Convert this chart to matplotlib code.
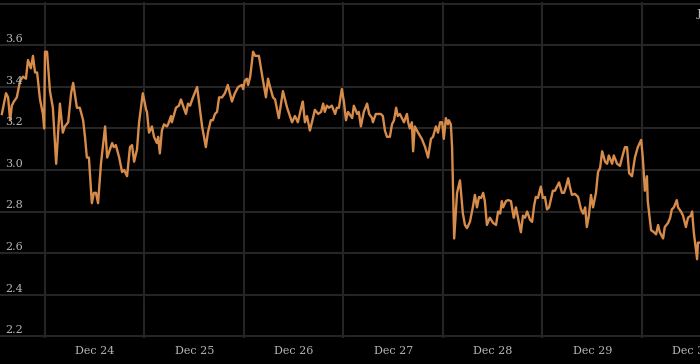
import matplotlib
matplotlib.use("Agg")
import matplotlib.pyplot as plt
import matplotlib.transforms as mtransforms

# hours relative to Dec 24 00:00
hours = [-10.4, -9.4, -8.9, -8.4, -8.0, -7.5, -6.8, -6.0, -5.3, -4.6, -4.1, -3.4, -2.9, -2.4, -1.9,
         -1.2, -0.5, -0.2, 0.0, 0.5, 1.2, 1.9, 2.7, 3.6, 4.3, 4.8, 5.6, 6.3, 6.8, 7.7, 8.4, 9.2,
         9.7, 10.1, 10.6, 11.3, 11.8, 12.3, 12.8, 13.5, 14.5, 15.0, 16.2, 16.6, 17.1, 17.9, 18.6,
         19.1, 19.8, 20.5, 21.0, 21.5, 22.2, 22.7, 23.6, 24.4, 24.6, 25.1, 25.8, 26.3, 27.0, 27.3,
         27.7, 28.2, 28.7, 29.4, 29.7, 30.4, 30.6, 31.6, 32.3, 32.8, 33.3, 34.0, 34.5, 35.0, 35.7,
         36.7, 37.4, 37.9, 38.8, 39.3, 40.0, 40.5, 41.0, 41.5, 42.0, 42.7, 43.4, 44.1, 44.6, 45.1,
         45.8, 46.6, 47.5, 47.8, 48.2, 48.7, 49.0, 49.5, 50.2, 50.7, 51.6, 52.6, 53.3, 53.8, 54.3,
         55.0, 55.5, 56.4, 57.4, 58.4, 59.6, 60.3, 61.0, 61.8, 62.2, 62.7, 63.2, 63.9, 64.4, 65.1,
         65.9, 66.6, 67.1, 67.5, 68.0, 68.5, 69.2, 70.0, 70.4, 70.9, 71.6, 72.1, 72.6, 73.1, 74.1,
         74.5, 75.3, 75.7, 76.2, 76.9, 77.7, 78.2, 78.9, 79.1, 79.8, 80.3, 81.0, 81.5, 82.0, 82.5,
         83.2, 83.7, 84.2, 84.7, 85.1, 85.6, 86.1, 86.6, 87.3, 87.6, 88.0, 88.5, 88.8, 89.2, 90.0,
         90.9, 91.7, 92.4, 93.1, 93.6, 94.3, 94.8, 95.3, 95.8, 96.2, 96.7, 97.2, 97.4, 97.9, 98.2,
         98.7, 99.4, 100.1, 100.8, 101.3, 101.8, 102.5, 103.2, 103.7, 104.2, 104.7, 105.2, 105.7,
         106.1, 106.6, 107.3, 108.1, 108.8, 109.3, 109.8, 110.2, 110.5, 111.2, 111.7, 112.4, 112.9,
         113.1, 113.6, 114.1, 114.8, 115.3, 115.8, 116.3, 117.0, 117.5, 118.0, 118.4, 118.9, 119.6,
         120.1, 120.6, 121.1, 121.6, 122.5, 123.0, 123.5, 124.0, 124.7, 125.2, 125.7, 126.2, 126.6,
         127.1, 127.8, 128.6, 129.3, 129.8, 130.3, 130.7, 131.2, 131.7, 132.2, 132.9, 133.4, 133.9,
         134.4, 135.1, 135.6, 136.0, 136.8, 137.2, 138.0, 138.7, 139.2, 139.9, 140.4, 140.9, 141.6,
         142.3, 143.0, 143.8, 144.2, 144.7, 145.2, 145.4, 146.2, 146.9, 147.4, 147.9, 148.3, 149.1,
         149.5, 150.3, 150.8, 151.2, 151.7, 152.4, 152.7, 153.4, 153.9, 154.6, 155.1, 155.8, 156.1,
         156.5, 157.3, 157.5, 158.0]

values = [3.27, 3.37, 3.35, 3.24, 3.31, 3.33, 3.35, 3.43, 3.45, 3.44, 3.53, 3.49, 3.55, 3.47, 3.47,
          3.34, 3.27, 3.20, 3.57, 3.57, 3.38, 3.30, 3.03, 3.32, 3.18, 3.21, 3.23, 3.37, 3.42, 3.30,
          3.30, 3.24, 3.15, 3.06, 3.06, 2.84, 2.89, 2.89, 2.84, 3.03, 3.21, 3.06, 3.13, 3.11, 3.12,
          3.06, 2.99, 3.00, 2.97, 3.11, 3.12, 3.04, 3.10, 3.23, 3.37, 3.29, 3.28, 3.18, 3.21, 3.16,
          3.13, 3.16, 3.08, 3.19, 3.22, 3.21, 3.22, 3.26, 3.23, 3.30, 3.31, 3.34, 3.31, 3.27, 3.32,
          3.31, 3.35, 3.40, 3.29, 3.21, 3.11, 3.18, 3.24, 3.24, 3.27, 3.28, 3.35, 3.35, 3.37, 3.41,
          3.37, 3.33, 3.37, 3.40, 3.41, 3.39, 3.43, 3.44, 3.41, 3.45, 3.57, 3.55, 3.55, 3.43, 3.35,
          3.44, 3.40, 3.35, 3.34, 3.25, 3.38, 3.30, 3.23, 3.26, 3.23, 3.30, 3.33, 3.23, 3.26, 3.19,
          3.23, 3.29, 3.27, 3.28, 3.32, 3.28, 3.31, 3.30, 3.31, 3.27, 3.30, 3.30, 3.39, 3.33, 3.24,
          3.28, 3.25, 3.31, 3.27, 3.28, 3.21, 3.28, 3.32, 3.27, 3.25, 3.23, 3.27, 3.27, 3.27, 3.26,
          3.19, 3.16, 3.16, 3.22, 3.24, 3.30, 3.26, 3.27, 3.25, 3.23, 3.27, 3.23, 3.20, 3.23, 3.09,
          3.21, 3.18, 3.15, 3.11, 3.06, 3.15, 3.16, 3.21, 3.18, 3.23, 3.23, 3.15, 3.25, 3.22, 3.24,
          3.22, 3.11, 2.67, 2.89, 2.95, 2.79, 2.735, 2.72, 2.75, 2.82, 2.88, 2.82, 2.87, 2.865, 2.89,
          2.85, 2.735, 2.77, 2.745, 2.735, 2.80, 2.79, 2.85, 2.82, 2.85, 2.855, 2.85, 2.79, 2.77,
          2.82, 2.77, 2.70, 2.78, 2.77, 2.80, 2.76, 2.75, 2.83, 2.87, 2.865, 2.92, 2.865, 2.87, 2.81,
          2.82, 2.90, 2.90, 2.92, 2.94, 2.89, 2.89, 2.92, 2.96, 2.92, 2.88, 2.885, 2.87, 2.81, 2.79,
          2.82, 2.725, 2.78, 2.88, 2.82, 2.89, 2.99, 3.01, 3.09, 3.04, 3.03, 3.07, 3.03, 3.07, 3.03,
          3.02, 3.06, 3.11, 3.11, 2.985, 2.97, 3.06, 3.11, 3.145, 3.06, 2.90, 2.97, 2.85, 2.71, 2.70,
          2.69, 2.735, 2.70, 2.67, 2.725, 2.745, 2.77, 2.81, 2.82, 2.855, 2.82, 2.80, 2.78, 2.725,
          2.77, 2.78, 2.80, 2.70, 2.57, 2.65, 2.65]

y_ticks = [2.2, 2.4, 2.6, 2.8, 3.0, 3.2, 3.4, 3.6, 3.8]
y_labels = ["2.2", "2.4", "2.6", "2.8", "3.0", "3.2", "3.4", "3.6"]
day_starts = [0, 24, 48, 72, 96, 120, 144]
day_labels = ["Dec 24", "Dec 25", "Dec 26", "Dec 27", "Dec 28", "Dec 29", "Dec 30"]

W, H = 700, 364
fig = plt.figure(figsize=(W / 100, H / 100), dpi=100)
fig.patch.set_facecolor("black")

ax_bottom_px, ax_top_px = 338, 2
ax = fig.add_axes([0, (H - ax_bottom_px) / H, 1, (ax_bottom_px - ax_top_px) / H])
ax.set_facecolor("black")
for s in ax.spines.values():
    s.set_visible(False)

ppu = 332 / 1.6
ax.set_ylim(2.2 - 2 / ppu, 3.8 + 2 / ppu)
ax.set_xlim(-10.85, 158.0)

grid_c = "#252525"
for yv in y_ticks:
    ax.axhline(yv, color=grid_c, lw=1.5, zorder=1)
for xv in day_starts:
    ax.axvline(xv, color=grid_c, lw=1.5, zorder=1)

ax.plot(hours, values, color="#d88c4b", lw=1.7, zorder=3, solid_joinstyle="round")

ax.set_xticks([])
ax.set_yticks([])

txt_c = "#b8b8b8"
font = dict(family="DejaVu Serif", size=8, color=txt_c)
trans_y = mtransforms.blended_transform_factory(ax.transAxes, ax.transData)
offset = mtransforms.ScaledTranslation(5 / 100, 1 / 100, fig.dpi_scale_trans)
for yv, lab in zip(y_ticks, y_labels):
    ax.text(0, yv, lab, transform=trans_y + offset, ha="left", va="bottom", **font)

trans_x = mtransforms.blended_transform_factory(ax.transData, fig.transFigure)
for xv, lab in zip(day_starts, day_labels):
    ax.text(xv + 12, 1 - 351 / H, lab, transform=trans_x, ha="center", va="center", clip_on=False, **font)

fig.text(697 / W, 1 - 14 / H, "J", ha="left", va="center", **font)

fig.savefig("out.png", dpi=100, facecolor="black")
